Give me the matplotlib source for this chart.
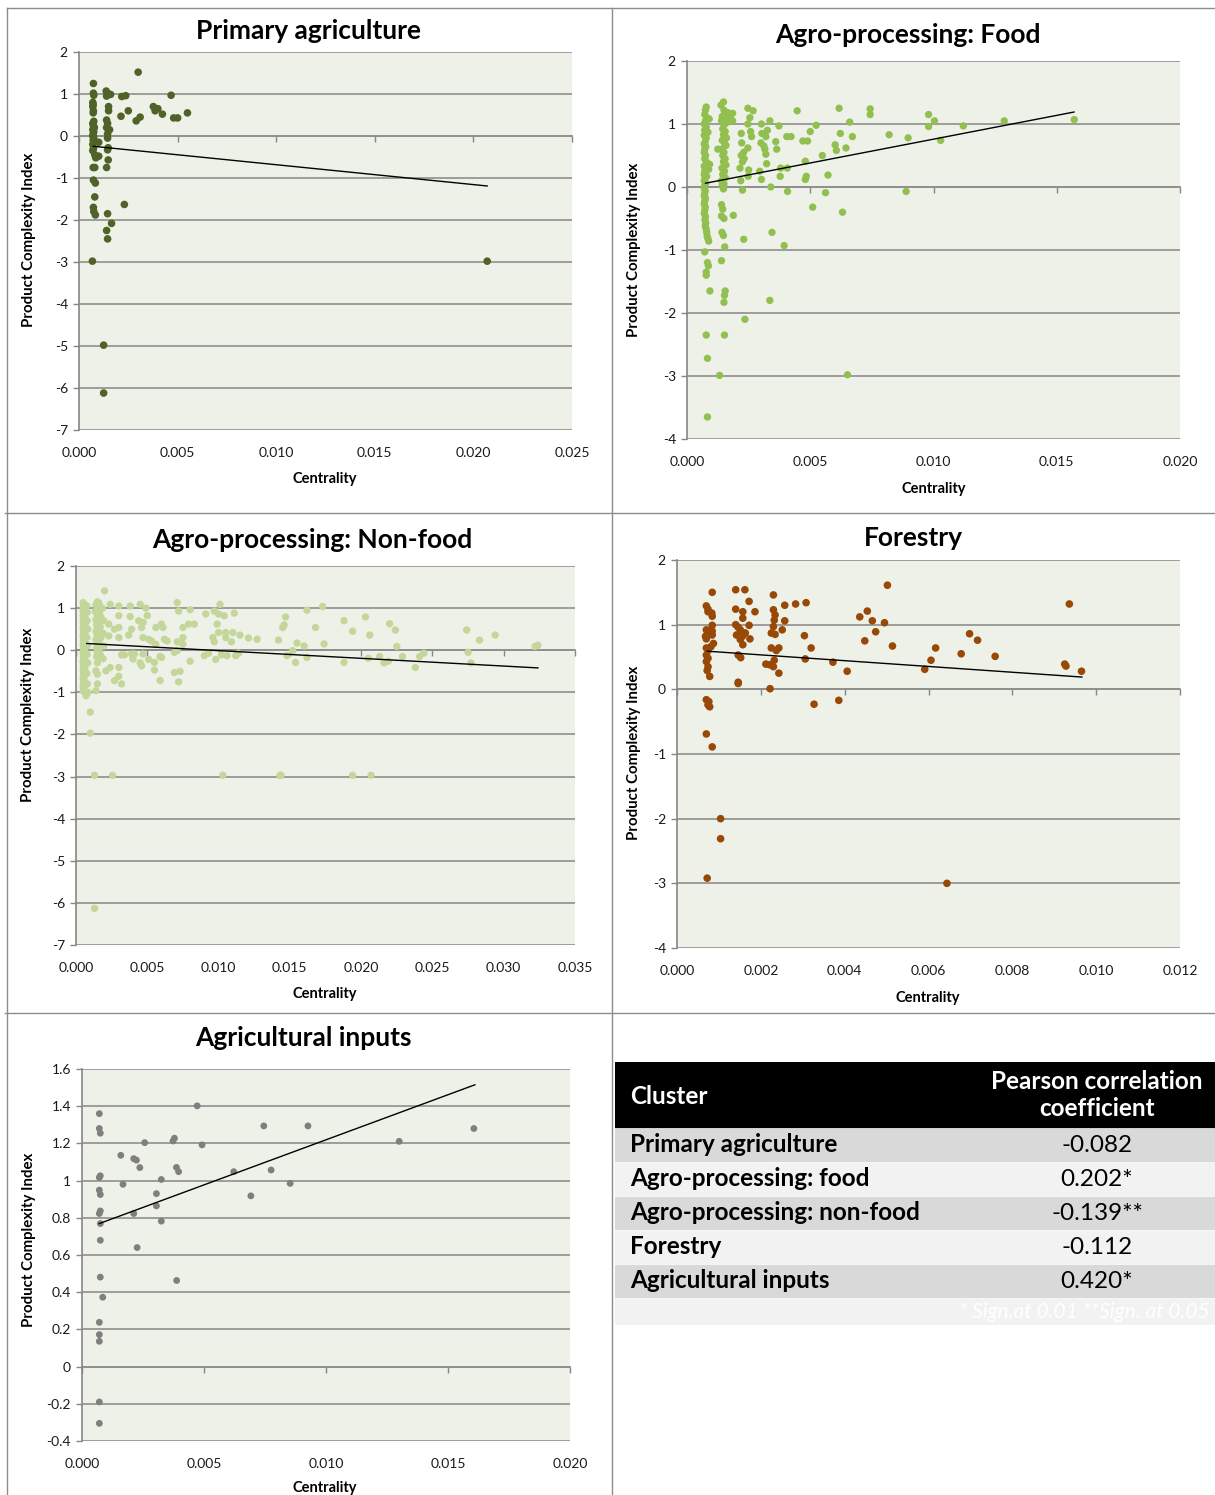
import numpy as np
import matplotlib
matplotlib.use("Agg")
import matplotlib.pyplot as plt
from matplotlib.lines import Line2D
from matplotlib.patches import Rectangle

plt.rcParams['font.family'] = ['Lato', 'DejaVu Sans']

W, H = 1215, 1495
BG = '#eef1e8'
GRID = '#8f8f8f'

# ---- data: (centrality, product complexity index) ----
primary_pts = [
    (0.00073, 1.25), (0.00073, 1.02), (0.00075, 0.97), (0.00070, 0.80), (0.00072, 0.75),
    (0.00070, 0.70), (0.00073, 0.60), (0.00072, 0.55), (0.00075, 0.35), (0.00070, 0.30),
    (0.00073, 0.25), (0.00078, 0.20), (0.00070, 0.15), (0.00075, 0.10), (0.00072, 0.05),
    (0.00070, 0.00), (0.00075, -0.05), (0.00072, -0.10), (0.00070, -0.20), (0.00073, -0.30),
    (0.00070, -0.35), (0.00080, -0.45), (0.00085, -0.52), (0.00072, -0.75), (0.00080, -0.75),
    (0.00073, -1.05), (0.00083, -1.12), (0.00080, -1.45), (0.00073, -1.70), (0.00075, -1.80),
    (0.00083, -1.88), (0.00068, -2.98), (0.00100, -0.15), (0.00100, -0.48), (0.00090, -0.50),
    (0.00138, 1.07), (0.00140, 0.95), (0.00150, 1.00), (0.00160, 0.99), (0.00150, 0.70),
    (0.00150, 0.60), (0.00140, 0.38), (0.00145, 0.30), (0.00140, 0.20), (0.00155, 0.15),
    (0.00145, 0.05), (0.00145, -0.05), (0.00148, -0.28), (0.00145, -0.33), (0.00148, -0.57),
    (0.00140, -0.75), (0.00145, -1.85), (0.00140, -2.25), (0.00145, -2.45), (0.00165, -2.08),
    (0.00125, -4.98), (0.00125, -6.12), (0.00217, 0.94), (0.00237, 0.96), (0.00213, 0.47),
    (0.00250, 0.60), (0.00230, -1.63), (0.00300, 1.52), (0.00290, 0.36), (0.00310, 0.45),
    (0.00377, 0.70), (0.00386, 0.60), (0.00400, 0.65), (0.00423, 0.52), (0.00467, 0.97),
    (0.00480, 0.43), (0.00500, 0.43), (0.00550, 0.55), (0.02070, -2.98),
]
primary_trend_x = [0.00073, 0.0207]
primary_trend_y = [-0.245, -1.19]

food_pts = [
    (0.00078, 1.27), (0.00075, 1.22), (0.00072, 1.15), (0.00080, 1.10), (0.00090, 1.08),
    (0.00075, 1.05), (0.00070, 1.00), (0.00078, 0.95), (0.00072, 0.90), (0.00085, 0.87),
    (0.00075, 0.85), (0.00070, 0.82), (0.00078, 0.78), (0.00074, 0.72), (0.00070, 0.68),
    (0.00076, 0.64), (0.00072, 0.60), (0.00070, 0.55), (0.00075, 0.50), (0.00072, 0.45),
    (0.00078, 0.40), (0.00092, 0.36), (0.00070, 0.33), (0.00075, 0.30), (0.00088, 0.28),
    (0.00072, 0.25), (0.00070, 0.20), (0.00080, 0.17), (0.00074, 0.14), (0.00070, 0.10),
    (0.00076, 0.06), (0.00072, 0.02), (0.00070, -0.02), (0.00074, -0.06), (0.00072, -0.10),
    (0.00070, -0.14), (0.00075, -0.18), (0.00072, -0.22), (0.00070, -0.27), (0.00074, -0.32),
    (0.00072, -0.37), (0.00070, -0.42), (0.00075, -0.47), (0.00073, -0.52), (0.00076, -0.57),
    (0.00074, -0.62), (0.00078, -0.67), (0.00080, -0.72), (0.00082, -0.78), (0.00085, -0.82),
    (0.00088, -0.86), (0.00072, -1.03), (0.00083, -1.20), (0.00087, -1.25), (0.00078, -1.35),
    (0.00078, -1.40), (0.00093, -1.65), (0.00078, -2.35), (0.00083, -2.72), (0.00083, -3.65),
    (0.00148, 1.35), (0.00138, 1.30), (0.00150, 1.22), (0.00165, 1.18), (0.00143, 1.12),
    (0.00155, 1.08), (0.00140, 1.05), (0.00160, 1.02), (0.00150, 0.98), (0.00145, 0.92),
    (0.00155, 0.88), (0.00148, 0.83), (0.00160, 0.78), (0.00143, 0.74), (0.00152, 0.70),
    (0.00158, 0.66), (0.00125, 0.60), (0.00140, 0.60), (0.00150, 0.55), (0.00145, 0.50),
    (0.00155, 0.45), (0.00148, 0.40), (0.00158, 0.35), (0.00142, 0.30), (0.00152, 0.25),
    (0.00145, 0.20), (0.00155, 0.15), (0.00140, 0.10), (0.00150, 0.05), (0.00143, 0.02),
    (0.00148, -0.03), (0.00140, -0.28), (0.00145, -0.35), (0.00140, -0.46), (0.00150, -0.50),
    (0.00188, -0.45), (0.00142, -0.72), (0.00148, -0.77), (0.00153, -0.95), (0.00140, -1.17),
    (0.00155, -1.65), (0.00152, -1.72), (0.00150, -1.83), (0.00152, -2.35), (0.00132, -2.99),
    (0.00185, 1.17), (0.00175, 1.10), (0.00185, 1.05),
    (0.00247, 1.25), (0.00268, 1.21), (0.00255, 1.10), (0.00247, 1.00), (0.00220, 0.85),
    (0.00262, 0.80), (0.00258, 0.88), (0.00222, 0.70), (0.00247, 0.62), (0.00230, 0.55),
    (0.00220, 0.50), (0.00232, 0.45), (0.00225, 0.40), (0.00215, 0.30), (0.00250, 0.27),
    (0.00248, 0.17), (0.00218, 0.10), (0.00225, -0.05), (0.00230, -0.83), (0.00235, -2.10),
    (0.00302, 1.00), (0.00336, 1.05), (0.00326, 0.90), (0.00304, 0.85), (0.00320, 0.80),
    (0.00300, 0.70), (0.00312, 0.65), (0.00316, 0.60), (0.00320, 0.52), (0.00323, 0.37),
    (0.00295, 0.25), (0.00302, 0.12), (0.00340, 0.00), (0.00345, -0.72), (0.00336, -1.80),
    (0.00373, 0.97), (0.00360, 0.72), (0.00364, 0.60), (0.00380, 0.30), (0.00378, 0.17),
    (0.00407, 0.30), (0.00408, -0.07), (0.00394, -0.93), (0.00405, 0.80), (0.00422, 0.80),
    (0.00447, 1.21), (0.00470, 0.73), (0.00489, 0.73), (0.00480, 0.41), (0.00484, 0.17),
    (0.00480, 0.12), (0.00500, 0.88), (0.00524, 0.98), (0.00510, -0.32), (0.00549, 0.50),
    (0.00562, -0.09), (0.00572, 0.19), (0.00617, 1.25), (0.00622, 0.85), (0.00631, -0.40),
    (0.00601, 0.67), (0.00606, 0.58), (0.00645, 0.62), (0.00660, 1.03), (0.00671, 0.80),
    (0.00651, -2.98), (0.00743, 1.24), (0.00743, 1.15), (0.00820, 0.83), (0.00889, -0.07),
    (0.00897, 0.78), (0.00980, 1.15), (0.00980, 0.96), (0.01004, 1.05), (0.01029, 0.74),
    (0.01121, 0.97), (0.01287, 1.05), (0.01571, 1.07),
]
food_trend_x = [0.00075, 0.0157]
food_trend_y = [0.06, 1.19]

nonfood_pts = [
    (0.00050, 1.13), (0.00060, 1.08), (0.00050, 1.03), (0.00065, 0.98), (0.00050, 0.93),
    (0.00058, 0.88), (0.00050, 0.83), (0.00062, 0.78), (0.00050, 0.73), (0.00058, 0.68),
    (0.00052, 0.63), (0.00065, 0.58), (0.00050, 0.53), (0.00058, 0.48), (0.00052, 0.43),
    (0.00062, 0.38), (0.00050, 0.33), (0.00058, 0.28), (0.00052, 0.23), (0.00065, 0.18),
    (0.00050, 0.13), (0.00058, 0.08), (0.00052, 0.03), (0.00062, -0.02), (0.00050, -0.07),
    (0.00058, -0.12), (0.00052, -0.17), (0.00062, -0.22), (0.00050, -0.27), (0.00058, -0.32),
    (0.00052, -0.37), (0.00062, -0.42), (0.00050, -0.47), (0.00058, -0.52), (0.00052, -0.57),
    (0.00060, -0.62), (0.00050, -0.67), (0.00056, -0.72), (0.00052, -0.77), (0.00058, -0.82),
    (0.00050, -0.87), (0.00055, -0.92), (0.00050, -0.97), (0.00070, -1.08), (0.00085, -1.00),
    (0.00075, 1.05), (0.00080, 0.90), (0.00078, 0.70), (0.00082, 0.50), (0.00076, 0.30),
    (0.00080, 0.10), (0.00078, -0.10), (0.00082, -0.30), (0.00076, -0.55), (0.00080, -0.80),
    (0.00100, -1.47), (0.00100, -1.97), (0.00130, -2.97), (0.00130, -6.13),
    (0.00150, 1.15), (0.00160, 1.12), (0.00140, 1.08), (0.00170, 1.02), (0.00150, 0.98),
    (0.00135, 0.92), (0.00165, 0.88), (0.00150, 0.82), (0.00175, 0.78), (0.00140, 0.72),
    (0.00160, 0.65), (0.00145, 0.60), (0.00170, 0.55), (0.00150, 0.50), (0.00140, 0.45),
    (0.00165, 0.40), (0.00150, 0.35), (0.00175, 0.30), (0.00140, 0.25), (0.00160, 0.20),
    (0.00150, 0.15), (0.00170, 0.10), (0.00145, 0.05), (0.00160, 0.00), (0.00150, -0.05),
    (0.00170, -0.10), (0.00145, -0.15), (0.00160, -0.20), (0.00150, -0.30), (0.00140, -0.49),
    (0.00150, -0.57), (0.00150, -0.80), (0.00140, -0.96), (0.00200, 1.41), (0.00185, 1.00),
    (0.00195, 0.70), (0.00190, 0.40), (0.00195, 0.10), (0.00190, -0.20),
    (0.0024, 1.09), (0.0030, 1.05), (0.0038, 1.05), (0.0045, 1.09), (0.0049, 1.00),
    (0.0050, 0.82), (0.0030, 0.82), (0.0038, 0.80), (0.0044, 0.70), (0.0047, 0.66),
    (0.0046, 0.54), (0.0039, 0.50), (0.0056, 0.54), (0.0060, 0.62), (0.0061, 0.54),
    (0.0023, 0.62), (0.0027, 0.50), (0.0030, 0.54), (0.0023, 0.34), (0.0030, 0.30),
    (0.0037, 0.36), (0.0047, 0.30), (0.0051, 0.26), (0.0053, 0.22), (0.0056, 0.14),
    (0.0062, 0.26), (0.0064, 0.22), (0.0071, 0.20), (0.0071, 1.13), (0.0072, 0.93),
    (0.0080, 0.96), (0.0079, 0.62), (0.0083, 0.62), (0.0075, 0.54), (0.0075, 0.30),
    (0.0075, 0.14), (0.0071, -0.01), (0.0069, -0.05), (0.0091, 0.86), (0.0097, 0.93),
    (0.0099, 0.62), (0.0101, 1.09), (0.0100, 0.86), (0.0104, 0.82), (0.0096, 0.30),
    (0.0097, 0.20), (0.0100, 0.42), (0.0105, 0.42), (0.0105, 0.30), (0.0110, 0.42),
    (0.0111, 0.88), (0.0109, 0.20), (0.0115, 0.36), (0.0121, 0.29), (0.0127, 0.26),
    (0.0142, 0.24), (0.0145, 0.54), (0.0146, 0.60), (0.0147, 0.79), (0.0155, 0.17),
    (0.0160, 0.10), (0.0152, -0.01), (0.0148, -0.13), (0.0154, -0.29), (0.0162, -0.17),
    (0.0162, 0.95), (0.0168, 0.54), (0.0173, 1.04), (0.0174, 0.15), (0.0188, 0.70),
    (0.0194, 0.45), (0.0188, -0.29), (0.0203, 0.79), (0.0206, 0.36), (0.0205, -0.19),
    (0.0213, -0.15), (0.0216, -0.30), (0.0219, -0.26), (0.0220, 0.63), (0.0224, 0.48),
    (0.0225, 0.09), (0.0229, -0.15), (0.0238, -0.41), (0.0241, -0.15), (0.0244, -0.07),
    (0.0274, 0.48), (0.0275, -0.05), (0.0277, -0.30), (0.0283, 0.24), (0.0294, 0.36),
    (0.0322, 0.09), (0.0324, 0.12),
    (0.0021, -0.49), (0.0024, -0.41), (0.0030, -0.41), (0.0030, -0.62), (0.0027, -0.72),
    (0.0032, -0.80), (0.0032, -0.11), (0.0034, -0.11), (0.0039, -0.09), (0.0040, -0.21),
    (0.0041, -0.09), (0.0045, -0.30), (0.0046, -0.37), (0.0047, -0.09), (0.0051, -0.22),
    (0.0055, -0.29), (0.0055, -0.47), (0.0059, -0.15), (0.0060, -0.17), (0.0059, -0.72),
    (0.0069, -0.53), (0.0073, -0.50), (0.0072, -0.75), (0.0080, -0.26), (0.0090, -0.13),
    (0.0093, -0.07), (0.0098, -0.22), (0.0102, -0.11), (0.0106, -0.13), (0.0112, -0.13),
    (0.0114, -0.07),
    (0.00256, -2.97), (0.01030, -2.97), (0.01430, -2.97), (0.01437, -2.97),
    (0.01940, -2.97), (0.02070, -2.97),
]
nonfood_trend_x = [0.00076, 0.0324]
nonfood_trend_y = [0.16, -0.42]

forestry_pts = [
    (0.00070, 1.29), (0.00074, 1.24), (0.00074, 1.20), (0.00083, 1.18), (0.00084, 1.13),
    (0.00084, 1.50), (0.00070, 0.92), (0.00074, 0.90), (0.00084, 0.99), (0.00084, 0.90),
    (0.00084, 0.84), (0.00068, 0.82), (0.00070, 0.78), (0.00087, 0.71), (0.00081, 0.66),
    (0.00070, 0.64), (0.00074, 0.60), (0.00070, 0.53), (0.00074, 0.48), (0.00070, 0.43),
    (0.00074, 0.35), (0.00072, 0.29), (0.00078, 0.20), (0.00070, -0.16), (0.00076, -0.19),
    (0.00074, -0.24), (0.00078, -0.27), (0.00070, -0.69), (0.00084, -0.89), (0.00104, -2.00),
    (0.00104, -2.31), (0.00072, -2.92),
    (0.00140, 1.54), (0.00162, 1.54), (0.00172, 1.36), (0.00140, 1.24), (0.00157, 1.20),
    (0.00186, 1.20), (0.00157, 1.10), (0.00140, 1.00), (0.00146, 0.96), (0.00172, 0.99),
    (0.00151, 0.92), (0.00163, 0.87), (0.00142, 0.84), (0.00156, 0.82), (0.00161, 0.87),
    (0.00151, 0.77), (0.00174, 0.78), (0.00157, 0.69), (0.00146, 0.53), (0.00152, 0.49),
    (0.00146, 0.11), (0.00146, 0.09),
    (0.00230, 1.46), (0.00230, 1.23), (0.00234, 1.15), (0.00257, 1.30), (0.00232, 1.07),
    (0.00257, 1.06), (0.00230, 0.97), (0.00251, 0.92), (0.00225, 0.87), (0.00234, 0.85),
    (0.00225, 0.64), (0.00243, 0.64), (0.00237, 0.60), (0.00232, 0.45), (0.00212, 0.39),
    (0.00221, 0.38), (0.00230, 0.35), (0.00243, 0.25), (0.00222, 0.01),
    (0.00283, 1.32), (0.00308, 1.34), (0.00304, 0.83), (0.00320, 0.64), (0.00306, 0.47),
    (0.00327, -0.23), (0.00372, 0.42), (0.00386, -0.17), (0.00406, 0.28), (0.00436, 1.12),
    (0.00454, 1.21), (0.00448, 0.75), (0.00466, 1.06), (0.00474, 0.89), (0.00495, 1.03),
    (0.00502, 1.61), (0.00514, 0.67), (0.00591, 0.31), (0.00606, 0.45), (0.00617, 0.64),
    (0.00644, -3.00), (0.00678, 0.55), (0.00698, 0.86), (0.00717, 0.76), (0.00759, 0.51),
    (0.00925, 0.39), (0.00928, 0.36), (0.00936, 1.32), (0.00965, 0.28),
]
forestry_trend_x = [0.00072, 0.00966]
forestry_trend_y = [0.59, 0.19]

inputs_pts = [
    (0.00071, 1.36), (0.00071, 1.28), (0.00075, 1.255), (0.00075, 1.026), (0.00071, 1.017),
    (0.00071, 0.949), (0.00075, 0.925), (0.00075, 0.837), (0.00071, 0.823), (0.00075, 0.769),
    (0.00075, 0.679), (0.00075, 0.481), (0.00085, 0.373), (0.00071, 0.238), (0.00071, 0.172),
    (0.00071, 0.136), (0.00071, -0.19), (0.00071, -0.305),
    (0.00159, 1.136), (0.00168, 0.98), (0.00212, 1.118), (0.00223, 1.11), (0.00237, 1.07),
    (0.00212, 0.823), (0.00226, 0.64), (0.00257, 1.204), (0.00305, 0.93), (0.00305, 0.864),
    (0.00325, 1.006), (0.00325, 0.782), (0.00373, 1.213), (0.00379, 1.228), (0.00387, 1.071),
    (0.00396, 1.048), (0.00388, 0.463), (0.00472, 1.402), (0.00492, 1.192), (0.00622, 1.048),
    (0.00692, 0.918), (0.00745, 1.294), (0.00775, 1.057), (0.00853, 0.985), (0.00926, 1.294),
    (0.01300, 1.211), (0.01606, 1.28),
]
inputs_trend_x = [0.00071, 0.0161]
inputs_trend_y = [0.769, 1.515]

clusters = ['Primary agriculture', 'Agro-processing: food', 'Agro-processing: non-food',
            'Forestry', 'Agricultural inputs']
coefficients = ['-0.082', '0.202*', '-0.139**', '-0.112', '0.420*']
footnote = '* Sign.at 0.01 **Sign. at 0.05'


def box(l, t, r, b):
    return [l / W, 1 - b / H, (r - l) / W, (b - t) / H]


def fmt_y(v):
    v = round(float(v), 1) + 0.0
    return f'{v:g}'


def draw_panel(fig, rect, pts, trend_x, trend_y, color, size,
               xmax, xstep, ylo, yhi, ystep, title, title_xy, ylab_xy, xlab_xy):
    ax = fig.add_axes(box(*rect))
    pts = np.array(pts)
    ax.set_facecolor(BG)
    ax.scatter(pts[:, 0], pts[:, 1], s=size, color=color, edgecolors='none',
               zorder=2, clip_on=False)
    ax.plot(trend_x, trend_y, color='black', lw=1, zorder=3)
    ax.set_xlim(0, xmax)
    ax.set_ylim(ylo, yhi)
    xt = np.round(np.arange(0, xmax + xstep / 2, xstep), 4)
    yt = np.round(np.arange(ylo, yhi + ystep / 2, ystep), 2)
    ax.set_xticks(xt)
    ax.set_xticklabels([f'{v:.3f}' for v in xt])
    ax.set_yticks(yt)
    ax.set_yticklabels([fmt_y(v) for v in yt])
    ax.yaxis.grid(True, color=GRID, lw=1.2)
    ax.set_axisbelow(True)
    for s in ['top', 'right', 'bottom']:
        ax.spines[s].set_visible(False)
    ax.spines['left'].set_color('#868686')
    ax.spines['left'].set_linewidth(1.2)
    ax.tick_params(axis='x', length=0, pad=12, labelsize=10, labelcolor='#1a1a1a')
    ax.tick_params(axis='y', length=4, width=1, color='#868686', pad=4,
                   labelsize=10, labelcolor='#1a1a1a')
    # horizontal axis line crosses at y = 0, as in the original
    sec = ax.secondary_xaxis(0, transform=ax.transData)
    sec.set_xticks(xt)
    sec.tick_params(axis='x', length=4, width=1, color='#868686', labelbottom=False)
    sec.spines['bottom'].set_color('#868686')
    sec.spines['bottom'].set_linewidth(1.2)

    fig.text(title_xy[0] / W, 1 - title_xy[1] / H, title, ha='center', va='center',
             fontsize=19, fontweight='bold', color='black')
    fig.text(ylab_xy[0] / W, 1 - ylab_xy[1] / H, 'Product Complexity Index',
             ha='center', va='center', rotation=90, fontsize=10.8, fontweight='bold')
    fig.text(xlab_xy[0] / W, 1 - xlab_xy[1] / H, 'Centrality', ha='center', va='center',
             fontsize=10.5, fontweight='bold')
    return ax


def main():
    fig = plt.figure(figsize=(W / 100, H / 100), dpi=100)
    fig.patch.set_facecolor('white')

    draw_panel(fig, (79, 52, 572, 430), primary_pts, primary_trend_x, primary_trend_y,
               '#4f6228', 30, 0.025, 0.005, -7, 2, 1,
               'Primary agriculture', (309, 31), (29, 240), (325, 479))
    draw_panel(fig, (687, 61, 1180, 439), food_pts, food_trend_x, food_trend_y,
               '#92c050', 28, 0.020, 0.005, -4, 2, 1,
               'Agro-processing: Food', (908, 35), (634, 250), (934, 489))
    draw_panel(fig, (76, 566, 575, 945), nonfood_pts, nonfood_trend_x, nonfood_trend_y,
               '#c4d79b', 28, 0.035, 0.005, -7, 2, 1,
               'Agro-processing: Non-food', (312, 540), (28, 715), (325, 994))
    draw_panel(fig, (677, 560, 1180, 948), forestry_pts, forestry_trend_x, forestry_trend_y,
               '#984807', 30, 0.012, 0.002, -4, 2, 1,
               'Forestry', (913, 538), (634, 753), (928, 998))
    draw_panel(fig, (82, 1069, 570, 1441), inputs_pts, inputs_trend_x, inputs_trend_y,
               '#7f7f7f', 24, 0.020, 0.005, -0.4, 1.6, 0.2,
               'Agricultural inputs', (303, 1038), (29, 1240), (325, 1488))

    # panel frames
    frame = [((7, 8), (1215, 8)), ((5, 513), (1215, 513)), ((5, 1013), (1215, 1013)),
             ((7, 8), (7, 1495)), ((612, 8), (612, 1495))]
    for (x0, y0), (x1, y1) in frame:
        fig.add_artist(Line2D([x0 / W, x1 / W], [1 - y0 / H, 1 - y1 / H],
                              transform=fig.transFigure, color='#8c8c8c', lw=1))

    # correlation table
    tx = fig.add_axes(box(615, 1062, 1215, 1325))
    tx.set_xlim(0, 600)
    tx.set_ylim(263, 0)
    tx.axis('off')
    tx.add_patch(Rectangle((0, 0), 600, 65, color='black'))
    tx.text(15, 34, 'Cluster', color='white', fontsize=17.5, fontweight='bold',
            ha='left', va='center')
    tx.text(482, 33, 'Pearson correlation\ncoefficient', color='white', fontsize=17.5,
            fontweight='bold', ha='center', va='center', linespacing=1.25)
    for i, (name, val) in enumerate(zip(clusters, coefficients)):
        y0 = 67 + 34 * i
        tx.add_patch(Rectangle((0, y0), 600, 32,
                               color='#d9d9d9' if i % 2 == 0 else '#f2f2f2'))
        tx.text(15, y0 + 16, name, fontsize=17.5, fontweight='bold', ha='left', va='center')
        tx.text(482, y0 + 16, val, fontsize=17.5, ha='center', va='center')
    y0 = 67 + 34 * len(clusters)
    tx.add_patch(Rectangle((0, y0), 600, 26, color='#f2f2f2'))
    tx.text(595, y0 + 13, footnote, color='white', fontsize=15, style='italic',
            ha='right', va='center')

    fig.savefig('out.png', dpi=100)


if __name__ == '__main__':
    main()
